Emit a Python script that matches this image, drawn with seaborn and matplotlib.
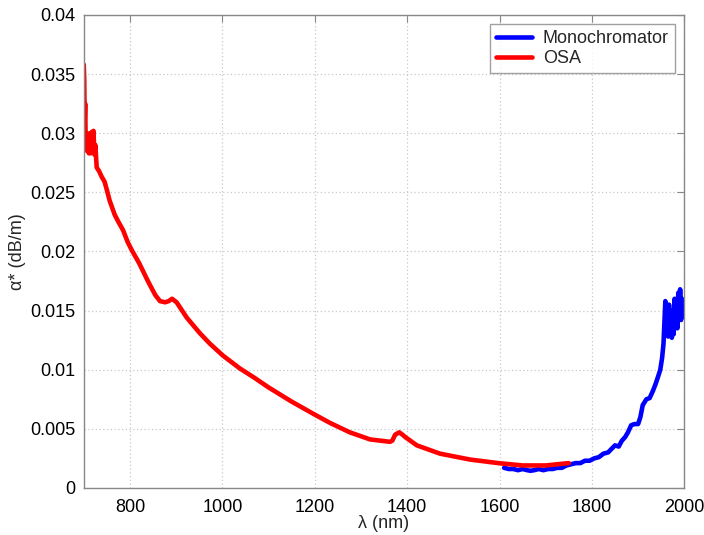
import matplotlib
matplotlib.use("Agg")
import matplotlib.pyplot as plt
import seaborn as sns
import pandas as pd
from matplotlib.ticker import FuncFormatter

# Monochromator measurement (long-wavelength end)
mono_wl = [1610, 1620, 1630, 1640, 1650, 1660, 1667, 1675, 1685, 1695, 1705,
           1715, 1725, 1735, 1745, 1755, 1765, 1775, 1785, 1795, 1805, 1815,
           1825, 1835, 1845, 1850, 1858, 1865, 1872, 1878, 1885, 1892, 1900,
           1905, 1910, 1918, 1925, 1932, 1938, 1944, 1948, 1952, 1955, 1957,
           1959, 1961, 1963, 1965, 1967, 1969, 1971, 1973, 1975, 1977, 1979,
           1981, 1983, 1985, 1987, 1989, 1991, 1993, 1995, 1997, 1999, 2000]
mono_alpha = [0.0017, 0.0016, 0.0016, 0.0015, 0.0016, 0.0015, 0.00145, 0.0015,
              0.0016, 0.0015, 0.0016, 0.0016, 0.0017, 0.0017, 0.0019, 0.0020,
              0.0021, 0.0021, 0.0023, 0.0023, 0.0025, 0.0026, 0.0029, 0.0030,
              0.0034, 0.0036, 0.0035, 0.0040, 0.0043, 0.0047, 0.0053, 0.0054,
              0.0054, 0.0060, 0.0070, 0.0075, 0.0076, 0.0082, 0.0088, 0.0095,
              0.0100, 0.0110, 0.0122, 0.0140, 0.0158, 0.0135, 0.0150, 0.0128,
              0.0155, 0.0130, 0.0150, 0.0127, 0.0145, 0.0130, 0.0160, 0.0140,
              0.0155, 0.0135, 0.0165, 0.0145, 0.0168, 0.0142, 0.0160, 0.0145,
              0.0158, 0.0150]

# Optical spectrum analyzer measurement
osa_wl = [700, 701, 702, 703, 704, 706, 707, 709, 711, 713, 715, 717, 719, 721,
          723, 725, 728, 733, 739, 745, 750, 756, 767, 775, 785, 795, 804, 820,
          840, 855, 865, 876, 884, 891, 901, 923, 951, 973, 1001, 1038, 1070,
          1100, 1150, 1200, 1233, 1276, 1320, 1363, 1368, 1374, 1383, 1390,
          1396, 1421, 1471, 1536, 1597, 1650, 1700, 1750]
osa_alpha = [0.0358, 0.0345, 0.0310, 0.0325, 0.0295, 0.0300, 0.0285, 0.0298,
             0.0283, 0.0300, 0.0283, 0.0301, 0.0285, 0.0302, 0.0282, 0.0290,
             0.0271, 0.0268, 0.0263, 0.0259, 0.0252, 0.0243, 0.0231, 0.0225,
             0.0218, 0.0208, 0.0201, 0.0190, 0.0174, 0.0163, 0.0158, 0.0157,
             0.0158, 0.0160, 0.0157, 0.0144, 0.0131, 0.0122, 0.0112, 0.0101,
             0.0093, 0.0085, 0.0073, 0.0062, 0.0055, 0.0047, 0.0041, 0.0039,
             0.0040, 0.0045, 0.0047, 0.0045, 0.0043, 0.0036, 0.0029, 0.0024,
             0.0021, 0.0019, 0.0019, 0.0021]

x_ticks = [800, 1000, 1200, 1400, 1600, 1800, 2000]
y_ticks = [0, 0.005, 0.01, 0.015, 0.02, 0.025, 0.03, 0.035, 0.04]

sns.set_theme(style="white")
plt.rcParams["font.family"] = ["Liberation Sans", "DejaVu Sans"]
plt.rcParams["font.size"] = 13

mono = pd.DataFrame({"wl": mono_wl, "alpha": mono_alpha})
osa = pd.DataFrame({"wl": osa_wl, "alpha": osa_alpha})

fig = plt.figure(figsize=(7.04, 5.35), dpi=100)
ax = fig.add_axes([0.119, 0.088, 0.853, 0.884])

sns.lineplot(data=mono, x="wl", y="alpha", color="#0000ff", lw=3.3,
             label="Monochromator", sort=False, estimator=None, ax=ax)
sns.lineplot(data=osa, x="wl", y="alpha", color="#ff0000", lw=3.3,
             label="OSA", sort=False, estimator=None, ax=ax)

ax.set_xlim(700, 2000)
ax.set_ylim(0, 0.04)
ax.set_xticks(x_ticks)
ax.set_yticks(y_ticks)
ax.yaxis.set_major_formatter(FuncFormatter(lambda v, p: "%g" % v))
ax.tick_params(axis="both", direction="in", length=5, width=0.8,
               colors="#888888", labelcolor="black", labelsize=13,
               top=True, right=True, pad=6)
ax.tick_params(axis="x", pad=8)
ax.grid(True, color="#c8c8c8", linestyle=(0, (1, 2)), linewidth=0.9)
for s in ax.spines.values():
    s.set_color("#888888")
    s.set_linewidth(1.0)

ax.set_xlabel("λ (nm)", fontsize=13, labelpad=-1)
ax.set_ylabel("α* (dB/m)", fontsize=13, labelpad=3)

leg = ax.legend(loc="upper right", fontsize=13, frameon=True, fancybox=False,
                handlelength=2.0, handletextpad=0.6, borderpad=0.35,
                labelspacing=0.15, borderaxespad=0.5)
leg.get_frame().set_edgecolor("#888888")
leg.get_frame().set_linewidth(1.0)

fig.savefig("out.png", dpi=100)
